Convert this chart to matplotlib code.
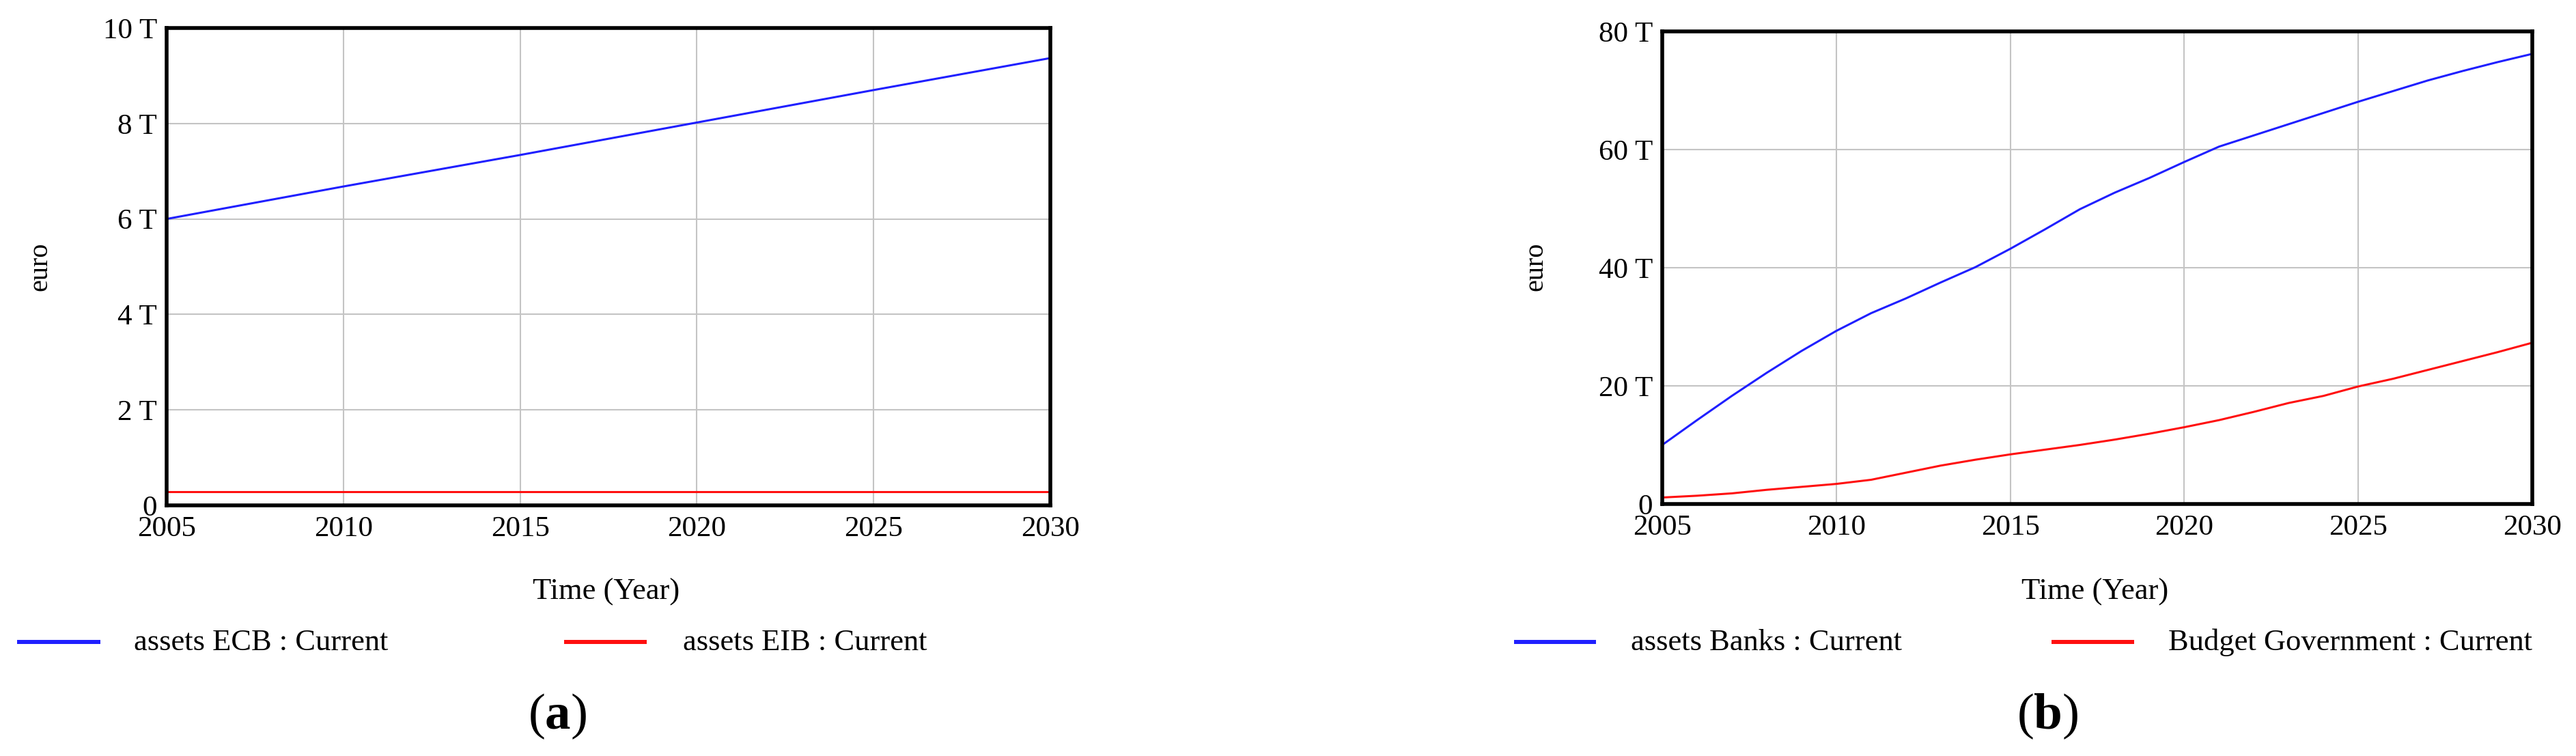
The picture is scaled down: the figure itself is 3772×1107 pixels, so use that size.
import matplotlib
matplotlib.use("Agg")
import matplotlib.pyplot as plt
from matplotlib.lines import Line2D
from matplotlib.ticker import FuncFormatter

plt.rcParams["font.family"] = ["Liberation Serif", "DejaVu Serif"]
plt.rcParams["mathtext.fontset"] = "custom"
plt.rcParams["mathtext.rm"] = "Liberation Serif"
plt.rcParams["mathtext.bf"] = "Liberation Serif:bold"

W, H = 3772, 1107

# --- data (trillions of euro) ---
years_a = [2005, 2010, 2015, 2020, 2025, 2030]
assets_ecb = [6.0, 6.68, 7.34, 8.02, 8.70, 9.37]
assets_eib = [0.29, 0.29, 0.29, 0.29, 0.29, 0.29]

years_b = [2005, 2006, 2007, 2008, 2009, 2010, 2011, 2012, 2013, 2014, 2015,
           2016, 2017, 2018, 2019, 2020, 2021, 2022, 2023, 2024, 2025,
           2026, 2027, 2028, 2029, 2030]
assets_banks = [10.0, 14.2, 18.3, 22.2, 25.9, 29.3, 32.3, 34.8, 37.5, 40.1, 43.2,
                46.5, 49.9, 52.7, 55.2, 57.9, 60.5, 62.4, 64.3, 66.2, 68.1,
                69.9, 71.7, 73.3, 74.8, 76.2]
budget_gov = [1.1, 1.4, 1.8, 2.4, 2.9, 3.4, 4.1, 5.3, 6.5, 7.5, 8.4,
              9.2, 10.0, 10.9, 11.9, 13.0, 14.2, 15.6, 17.1, 18.3, 19.9,
              21.2, 22.7, 24.2, 25.7, 27.3]

yticks_a = [0, 2, 4, 6, 8, 10]
yticks_b = [0, 20, 40, 60, 80]
xticks = [2005, 2010, 2015, 2020, 2025, 2030]

BLUE = "#1f1fff"
RED = "#ff0f0f"
GRID = "#c4c4c4"


def px(x, y):
    return x / W, 1 - y / H


fig = plt.figure(figsize=(W / 100, H / 100), dpi=100)


def panel(box, xs, s1, s2, yticks, ymax):
    l, t = px(box[0], box[1])
    r, b = px(box[2], box[3])
    ax = fig.add_axes([l, b, r - l, t - b])
    ax.plot(xs, s1, color=BLUE, lw=2.2, zorder=3)
    ax.plot(xs, s2, color=RED, lw=2.2, zorder=3)
    ax.set_xlim(2005, 2030)
    ax.set_ylim(0, ymax)
    ax.set_xticks(xticks)
    ax.set_yticks(yticks)
    ax.yaxis.set_major_formatter(FuncFormatter(lambda v, p: "0" if v == 0 else f"{int(v)} T"))
    ax.grid(True, color=GRID, lw=1.5)
    ax.set_axisbelow(True)
    ax.tick_params(length=0, labelsize=31)
    ax.tick_params(axis="y", pad=10)
    ax.tick_params(axis="x", pad=11)
    for sp in ax.spines.values():
        sp.set_linewidth(4)
        sp.set_color("black")
        sp.set_zorder(4)
    return ax


panel((244, 41, 1538, 740), years_a, assets_ecb, assets_eib, yticks_a, 10)   # (a)
panel((2434, 46, 3708, 738), years_b, assets_banks, budget_gov, yticks_b, 80)  # (b)

# y labels
for x in (59, 2249):
    fig.text(*px(x, 390), "euro", rotation=90, fontsize=29, ha="center", va="center")

# x labels
for x in (888, 3068):
    fig.text(*px(x, 867), "Time (Year)", fontsize=32, ha="center", va="center")

# legends
legend_items = [
    (28, 144, 196, BLUE, "assets ECB : Current"),
    (829, 944, 1000, RED, "assets EIB : Current"),
    (2220, 2334, 2388, BLUE, "assets Banks : Current"),
    (3007, 3122, 3175, RED, "Budget Government : Current"),
]
for x0, x1, xt, c, lab in legend_items:
    (a0, yy), (a1, _) = px(x0, 940), px(x1, 940)
    fig.add_artist(Line2D([a0, a1], [yy, yy], color=c, lw=4.3, transform=fig.transFigure))
    fig.text(*px(xt, 952), lab, fontsize=32, ha="left", va="baseline")

# panel letters
for x, letter in ((816, "a"), (2998, "b")):
    fig.text(*px(x, 1067), "(" + r"$\mathbf{" + letter + "}$" + ")", fontsize=54,
             ha="center", va="baseline")

fig.savefig("out.png", dpi=100)
